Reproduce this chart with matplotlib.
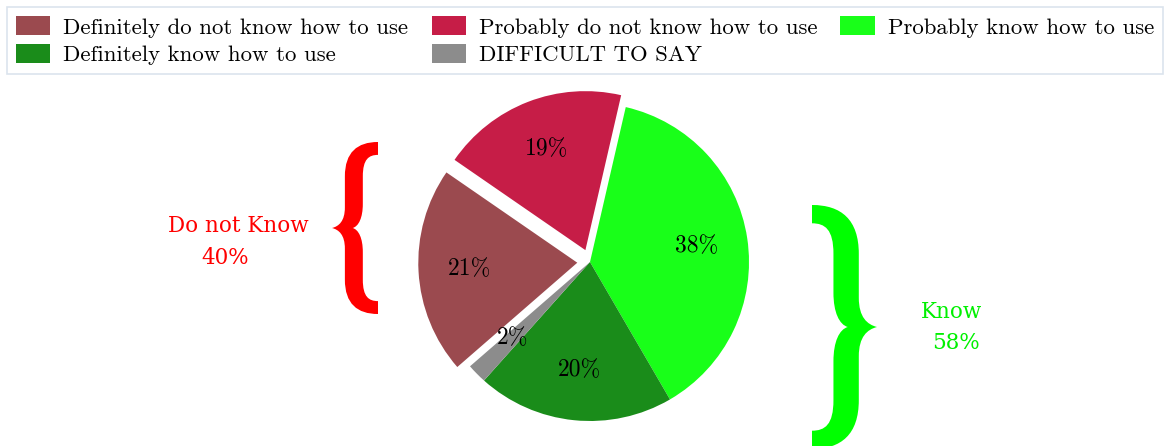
import matplotlib
matplotlib.use('Agg')
import matplotlib.pyplot as plt
from matplotlib.path import Path
from matplotlib.patches import PathPatch

plt.rcParams['axes.formatter.use_mathtext'] = True

# survey answers, in pie order (clockwise)
labels = ['Definitely do not know how to use', 'Probably do not know how to use',
          'Probably know how to use', 'Definitely know how to use', 'DIFFICULT TO SAY']
shares = [21, 19, 38, 20, 2]
colors = ['#9b4a4f', '#c61d47', '#19ff19', '#1a8c1a', '#8c8c8c']
explode = [0.08, 0.08, 0, 0, 0]

group_labels = ['Do not Know', 'Know']
group_totals = [40, 58]

W, H = 1169, 446
fig = plt.figure(figsize=(W / 100, H / 100), dpi=100)

# square axes for the pie, centre at (590, 262) px, radius ~159 px
cx, cy, r = 590, 262, 159
lim = 1.3
side = 2 * lim * r
ax = fig.add_axes([(cx - side / 2) / W, (H - cy - side / 2) / H, side / W, side / H])
wedges, _, autotexts = ax.pie(shares, colors=colors, explode=explode, startangle=221,
                              counterclock=False, autopct='%d%%', pctdistance=0.68,
                              textprops=dict(family='cmr10', fontsize=17, color='black'))
ax.set_xlim(-lim, lim)
ax.set_ylim(-lim, lim)
ax.set_aspect('equal')
ax.axis('off')

# legend fills column by column, so reorder to get the rows right
order = [0, 3, 1, 4, 2]
leg = fig.legend([wedges[i] for i in order], [labels[i] for i in order],
                 loc='upper left', bbox_to_anchor=(7 / W, 1 - 72 / H, 1156 / W, 65 / H),
                 mode='expand', ncol=3, borderaxespad=0, frameon=True, fancybox=False,
                 prop=dict(family='cmr10', size=16.4), handlelength=1.5, handleheight=0.92,
                 handletextpad=0.57, labelspacing=0.27, borderpad=0.4)
leg.get_frame().set_edgecolor('#d3dde9')
leg.get_frame().set_linewidth(1.2)

# curly brace outline in a unit box, x to the right, y down from the top
# (point of the brace on the left)
brace_outline = [
    (Path.MOVETO, (1.0, 0.0)),
    (Path.CURVE4, (0.55, 0.0)), (Path.CURVE4, (0.28, 0.06)), (Path.CURVE4, (0.28, 0.2)),
    (Path.LINETO, (0.28, 0.38)),
    (Path.CURVE4, (0.28, 0.46)), (Path.CURVE4, (0.15, 0.49)), (Path.CURVE4, (0.0, 0.5)),
    (Path.CURVE4, (0.15, 0.51)), (Path.CURVE4, (0.28, 0.54)), (Path.CURVE4, (0.28, 0.62)),
    (Path.LINETO, (0.28, 0.8)),
    (Path.CURVE4, (0.28, 0.94)), (Path.CURVE4, (0.55, 1.0)), (Path.CURVE4, (1.0, 1.0)),
    (Path.LINETO, (1.0, 0.925)),
    (Path.CURVE4, (0.8, 0.925)), (Path.CURVE4, (0.67, 0.9)), (Path.CURVE4, (0.67, 0.8)),
    (Path.LINETO, (0.67, 0.64)),
    (Path.CURVE4, (0.67, 0.56)), (Path.CURVE4, (0.58, 0.51)), (Path.CURVE4, (0.45, 0.5)),
    (Path.CURVE4, (0.58, 0.49)), (Path.CURVE4, (0.67, 0.44)), (Path.CURVE4, (0.67, 0.36)),
    (Path.LINETO, (0.67, 0.2)),
    (Path.CURVE4, (0.67, 0.1)), (Path.CURVE4, (0.8, 0.075)), (Path.CURVE4, (1.0, 0.075)),
    (Path.CLOSEPOLY, (1.0, 0.0)),
]


def brace(x0, y0, x1, y1, color, flip=False):
    # place the brace in a pixel box (y measured from the top of the figure)
    codes = [c for c, _ in brace_outline]
    verts = []
    for _, (u, v) in brace_outline:
        if flip:
            u = 1 - u
        verts.append(((x0 + u * (x1 - x0)) / W, 1 - (y0 + v * (y1 - y0)) / H))
    fig.add_artist(PathPatch(Path(verts, codes), facecolor=color, edgecolor='none',
                             transform=fig.transFigure))


brace(332, 142, 378, 314, '#ff0000')
brace(812, 205, 877, 449, '#00ff00', flip=True)

side_font = dict(family='DejaVu Serif', fontsize=15.5)
fig.text(238 / W, 1 - 226 / H, group_labels[0], color='#ff0000', ha='center', va='center', **side_font)
fig.text(225 / W, 1 - 258 / H, f'{group_totals[0]}%', color='#ff0000', ha='center', va='center', **side_font)
fig.text(951 / W, 1 - 312 / H, group_labels[1], color='#00f000', ha='center', va='center', **side_font)
fig.text(956 / W, 1 - 343 / H, f'{group_totals[1]}%', color='#00f000', ha='center', va='center', **side_font)

fig.savefig('out.png', dpi=100)
